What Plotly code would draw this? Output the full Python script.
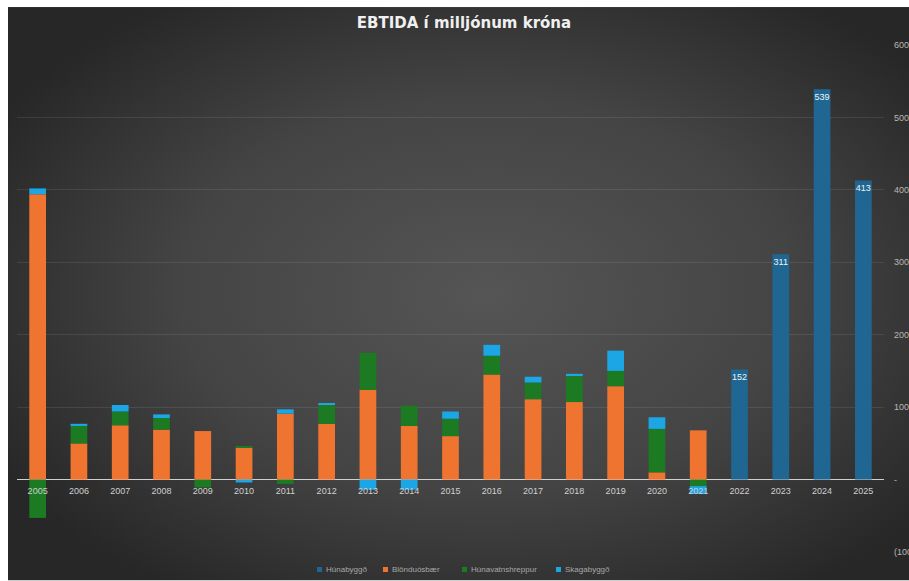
import base64
import plotly.graph_objects as go

years = [str(y) for y in range(2005, 2026)]
hunabyggd = [None] * 17 + [152, 311, 539, 413]
blonduosbaer = [394, 50, 75, 69, 67, 44, 91, 77, 124, 74, 60, 145, 111, 107, 129, 10, 68, None, None, None, None]
hunavatnshreppur = [-53, 24, 19, 16, -11, 2, -6, 26, 51, 28, 24, 26, 23, 36, 21, 60, -9, None, None, None, None]
skagabyggd = [8, 3, 9, 5, 0, -4, 6, 2, -14, -14, 10, 15, 8, 3, 28, 16, -11, None, None, None, None]

series_names = ["Húnabyggð", "Blönduósbær", "Húnavatnshreppur", "Skagabyggð"]
series_colors = ["#1f6792", "#ee7430", "#1b7a22", "#1ca6e6"]

y_tickvals = [-100, 0, 100, 200, 300, 400, 500, 600]
y_ticktext = ["(100)", "-", "100", "200", "300", "400", "500", "600"]

W, H = 909, 581
L, R, T, B = 17, 25, 45, 28.5
pw = W - L - R
ph = H - T - B
BX, BY = 8, 7  # white frame at left / top

svg = '''<svg xmlns="http://www.w3.org/2000/svg" width="901" height="574" viewBox="0 0 901 574" preserveAspectRatio="none">
<defs><radialGradient id="g" cx="0.53" cy="0.5" r="0.62" fx="0.53" fy="0.5" gradientUnits="objectBoundingBox">
<stop offset="0" stop-color="#555555"/><stop offset="0.55" stop-color="#444444"/><stop offset="1" stop-color="#272727"/>
</radialGradient></defs>
<rect width="901" height="574" fill="url(#g)"/></svg>'''
bg_src = "data:image/svg+xml;base64," + base64.b64encode(svg.encode()).decode()

data = [hunabyggd, blonduosbaer, hunavatnshreppur, skagabyggd]

fig = go.Figure()
for i, (name, vals, col) in enumerate(zip(series_names, data, series_colors)):
    kw = {}
    if i == 0:
        kw = dict(text=[("" if v is None else str(v)) for v in vals],
                  textposition="inside", insidetextanchor="end", textangle=0,
                  textfont=dict(color="#f2f2f2", size=9, family="Liberation Sans"))
    fig.add_trace(go.Bar(name=name, x=years, y=vals, marker_color=col,
                         marker_line=dict(width=0), showlegend=False, **kw))

# custom compact legend
legend_px = [317, 383, 462, 556]
legend_y_px = 570
shapes = []
annotations = []
for name, col, px in zip(series_names, series_colors, legend_px):
    x0 = (px - L) / pw
    x1 = (px + 5 - L) / pw
    yc = (T + ph - legend_y_px) / ph
    shapes.append(dict(type="rect", xref="paper", yref="paper", x0=x0, x1=x1,
                       y0=yc - 2.5 / ph, y1=yc + 2.5 / ph, fillcolor=col, line=dict(width=0)))
    annotations.append(dict(text=name, xref="paper", yref="paper", x=(px + 7 - L) / pw, y=yc,
                            xanchor="left", yanchor="middle", showarrow=False,
                            font=dict(family="Liberation Sans", size=8, color="#a8a8a8")))

fig.update_layout(
    width=W, height=H,
    margin=dict(l=L, r=R, t=T, b=B, autoexpand=False),
    paper_bgcolor="white",
    plot_bgcolor="rgba(0,0,0,0)",
    barmode="relative",
    bargap=0.595,
    showlegend=False,
    hovermode=False,
    title=dict(text="<b>EBTIDA í milljónum króna</b>", x=464 / W, xref="container", xanchor="center",
               y=1 - 23 / H, yref="container", yanchor="middle",
               font=dict(family="DejaVu Sans", size=15, color="#f0f0f0")),
    xaxis=dict(type="category", tickfont=dict(family="Liberation Sans", size=9, color="#d0d0d0"),
               showgrid=False, showline=False, ticks="", automargin=False,
               anchor="free", position=100 / 700, ticklabelstandoff=4),
    yaxis=dict(side="right", range=[-100, 600], tickvals=y_tickvals, ticktext=y_ticktext,
               tickfont=dict(family="Liberation Sans", size=9, color="#b8b8b8"),
               showgrid=True, gridcolor="rgba(255,255,255,0.09)", gridwidth=1,
               zeroline=True, zerolinecolor="#d0d0d0", zerolinewidth=1,
               ticks="", ticklabelstandoff=9, automargin=False),
    images=[dict(source=bg_src, xref="paper", yref="paper",
                 x=(BX - L) / pw, y=(T + ph - BY) / ph,
                 sizex=(W - BX) / pw, sizey=(H - BY) / ph,
                 sizing="stretch", xanchor="left", yanchor="top", layer="below")],
    shapes=shapes,
    annotations=annotations,
    uniformtext=dict(minsize=8, mode="show"),
)

fig.write_html("out.html",
               config={"displayModeBar": False},
               post_script="document.documentElement.style.overflow='hidden';"
                           "document.body.style.overflow='hidden';document.body.style.margin='0';")
